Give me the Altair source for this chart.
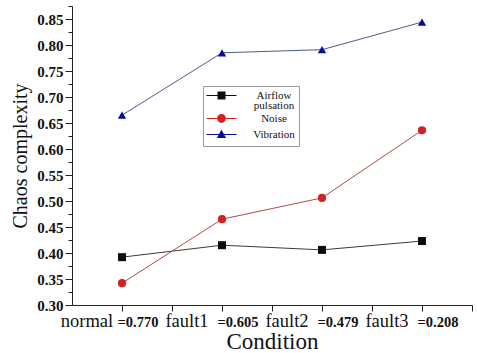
import altair as alt
import pandas as pd

# ---- data ----
conditions = ["normal", "fault1", "fault2", "fault3"]
cond_scores = ["=0.770", "=0.605", "=0.479", "=0.208"]
series_names = ["Airflow pulsation", "Noise", "Vibration"]
airflow = [0.392, 0.415, 0.406, 0.423]
noise = [0.342, 0.465, 0.506, 0.636]
vibration = [0.665, 0.785, 0.791, 0.844]
y_major = [0.30, 0.35, 0.40, 0.45, 0.50, 0.55, 0.60, 0.65, 0.70, 0.75, 0.80, 0.85]
y_minor = [0.325, 0.375, 0.425, 0.475, 0.525, 0.575, 0.625, 0.675, 0.725, 0.775, 0.825, 0.875]

line_colors = ["#3a3a3a", "#b04a44", "#4b5b8e"]
marker_colors = ["#0d0d0d", "#d42222", "#0a0a9e"]
marker_shapes = ["square", "circle", "triangle-up"]
marker_sizes = [64, 70, 80]
legend_paths = [
    "M-3.75,-0.13H-1V0.13H-3.75Z M1,-0.13H3.75V0.13H1Z M-1,-1H1V1H-1Z",
    "M-3.75,-0.13H-1V0.13H-3.75Z M1,-0.13H3.75V0.13H1Z M-1.1,0A1.1,1.1,0,1,1,1.1,0A1.1,1.1,0,1,1,-1.1,0Z",
    "M-3.75,-0.13H-0.6V0.13H-3.75Z M0.6,-0.13H3.75V0.13H0.6Z M0,-1.2L1.15,0.9H-1.15Z",
]

rows = []
for name, vals in zip(series_names, [airflow, noise, vibration]):
    for i, v in enumerate(vals):
        rows.append({"idx": i + 1, "series": name, "lg": name, "value": v})
df = pd.DataFrame(rows)
lab_df = pd.DataFrame({"idx": [1, 2, 3, 4], "cond": conditions, "score": cond_scores})

W, H = 400, 299
FONT = "Liberation Serif"
AX = "#222222"

x_scale = alt.Scale(domain=[0.5, 4.5], nice=False, zero=False)
y_scale = alt.Scale(domain=[0.30, 0.875], nice=False, zero=False)

x_axis = alt.Axis(
    values=[1, 1.5, 2, 2.5, 3, 3.5, 4, 4.5],
    labels=False, grid=False, domainColor=AX, tickColor=AX, tickSize=6,
    title="Condition", titleFont=FONT, titleFontSize=23, titleFontWeight="normal",
    titleColor="#111111", titleBaseline="alphabetic", titleY=43,
)
y_axis = alt.Axis(
    orient="left", values=y_major, format=".2f",
    labelOverlap=False, labelBound=False, labelFlush=False,
    tickSize=7, grid=False, domainColor=AX, tickColor=AX,
    labelFont=FONT, labelFontSize=15, labelFontWeight="bold", labelColor="#111111",
    labelPadding=2,
    title="Chaos complexity", titleFont=FONT, titleFontSize=20, titleFontWeight="normal",
    titleColor="#111111", titleBaseline="alphabetic", titleX=-46, titleAngle=270,
)
y_minor_axis = alt.Axis(
    orient="left", values=y_minor, labels=False, domain=False, grid=False,
    tickSize=4, tickColor=AX,
)

base = alt.Chart(df)
lines = base.mark_line(strokeWidth=1).encode(
    x=alt.X("idx:Q", scale=x_scale, axis=x_axis),
    y=alt.Y("value:Q", scale=y_scale, axis=y_axis),
    color=alt.Color("series:N", scale=alt.Scale(domain=series_names, range=line_colors), legend=None),
)
points = base.mark_point(filled=True, opacity=1).encode(
    x="idx:Q",
    y=alt.Y("value:Q", scale=y_scale, axis=None),
    color=alt.Color("series:N", scale=alt.Scale(domain=series_names, range=marker_colors), legend=None),
    shape=alt.Shape("series:N", scale=alt.Scale(domain=series_names, range=marker_shapes), legend=None),
    size=alt.Size("series:N", scale=alt.Scale(domain=series_names, range=marker_sizes), legend=None),
)
leg = alt.Legend(
    orient="none", legendX=131, legendY=80, padding=4,
    strokeColor="#9a9a9a", fillColor="white",
    labelFont=FONT, labelFontSize=11, labelColor="#111111", labelAlign="center",
    labelOffset=47, labelLimit=200, symbolSize=64, symbolOffset=9, rowPadding=0,
    symbolOpacity=1,
    labelExpr="datum.label == 'Airflow pulsation' ? ['Airflow', 'pulsation'] : datum.label",
)
# legend-only layer (also carries the minor y ticks): its marks sit below the plot area and are clipped
hidden = base.transform_calculate(ghost="-1").mark_point(filled=True, clip=True).encode(
    x="idx:Q",
    y=alt.Y("ghost:Q", scale=y_scale, axis=y_minor_axis, title=None),
    color=alt.Color("lg:N", scale=alt.Scale(domain=series_names, range=marker_colors), title=None, legend=leg),
    shape=alt.Shape("lg:N", scale=alt.Scale(domain=series_names, range=legend_paths), title=None, legend=leg),
)
names = alt.Chart(lab_df).mark_text(
    font=FONT, fontSize=18.5, align="center", baseline="alphabetic", dx=-35, color="#111111"
).encode(x=alt.X("idx:Q", scale=x_scale), y=alt.value(321), text="cond:N")
scores = alt.Chart(lab_df).mark_text(
    font=FONT, fontSize=14.5, fontWeight="bold", align="center", baseline="alphabetic", dx=16, color="#111111"
).encode(x=alt.X("idx:Q", scale=x_scale), y=alt.value(321), text="score:N")

chart = (
    alt.layer(lines, points, hidden, names, scores)
    .resolve_scale(color="independent", shape="independent")
    .resolve_axis(y="independent")
    .properties(width=W, height=H, autosize=alt.AutoSizeParams(type="none"),
                padding={"left": 72, "top": 6, "right": 5, "bottom": 48}, background="white")
    .configure(style={"guide-label": {"lineHeight": 10.5}})
    .configure_view(stroke=None)
)
chart.save("out.html", embed_options={"renderer": "svg", "actions": False})
